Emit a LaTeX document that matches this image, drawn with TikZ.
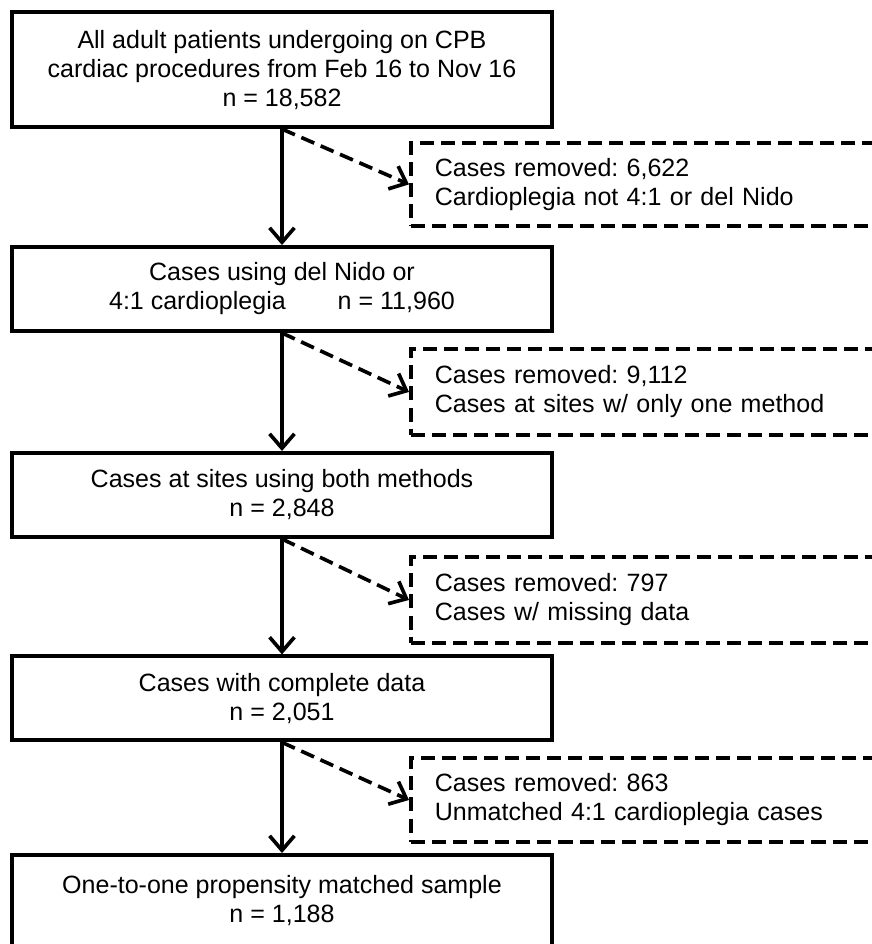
\documentclass[tikz,border=0pt]{standalone}
\usepackage{fontspec}
\setmainfont{Liberation Sans}
\usetikzlibrary{arrows.meta}
\frenchspacing

\begin{document}
\begin{tikzpicture}[scale=1,
  box/.style={draw,line width=2.8pt,minimum width=13.5cm,inner sep=0pt,align=center,
    font=\fontsize{17.8}{20.6}\selectfont},
  cutbox/.style={draw,line width=2.6pt,dash pattern=on 10pt off 5pt,anchor=west,
    text width=13.6cm,inner xsep=0.6cm,inner ysep=0pt,align=left,
    font=\fontsize{17.8}{20.6}\selectfont},
  down/.style={line width=2.6pt,-{Straight Barb[length=0.36cm,width=0.62cm,line width=2.6pt]}},
  aside/.style={line width=2.6pt,dash pattern=on 10pt off 5pt,
    -{Straight Barb[length=0.36cm,width=0.62cm,line width=2.6pt]}}]
\useasboundingbox (0,0) rectangle (21.8,23.6);
% main boxes
\node[box,minimum height=2.875cm] (all) at (7.05,21.86)
  {All adult patients undergoing on CPB\\cardiac procedures from Feb 16 to Nov 16\\n = 18,582};
\node[box,minimum height=2.1cm] (nido) at (7.05,16.375)
  {Cases using del Nido or\\4:1 cardioplegia\hspace{1.3cm}n = 11,960};
\node[box,minimum height=2.1cm] (both) at (7.05,11.225)
  {Cases at sites using both methods\\n = 2,848};
\node[box,minimum height=2.1cm] (complete) at (7.05,6.14)
  {Cases with complete data\\n = 2,051};
\node[box,minimum height=2.3cm] (matched) at (7.05,1.075)
  {One-to-one propensity matched sample\\n = 1,188};
% removed cases
\node[cutbox,minimum height=2.075cm] (rm1) at (10.225,18.99)
  {Cases removed: 6,622\\Cardioplegia not 4:1 or del Nido};
\node[cutbox,minimum height=2.15cm] (rm2) at (10.225,13.8)
  {Cases removed: 9,112\\Cases at sites w/ only one method};
\node[cutbox,minimum height=2.15cm] (rm3) at (10.225,8.6)
  {Cases removed: 797\\Cases w/ missing data};
\node[cutbox,minimum height=2.1cm] (rm4) at (10.225,3.6)
  {Cases removed: 863\\Unmatched 4:1 cardioplegia cases};
% arrows
\draw[down] (all.south) -- (nido.north);
\draw[down] (nido.south) -- (both.north);
\draw[down] (both.south) -- (complete.north);
\draw[down] (complete.south) -- (matched.north);
\draw[aside] (all.south) -- (rm1.west);
\draw[aside] (nido.south) -- (rm2.west);
\draw[aside] (both.south) -- (rm3.west);
\draw[aside] (complete.south) -- (rm4.west);
\end{tikzpicture}
\end{document}
